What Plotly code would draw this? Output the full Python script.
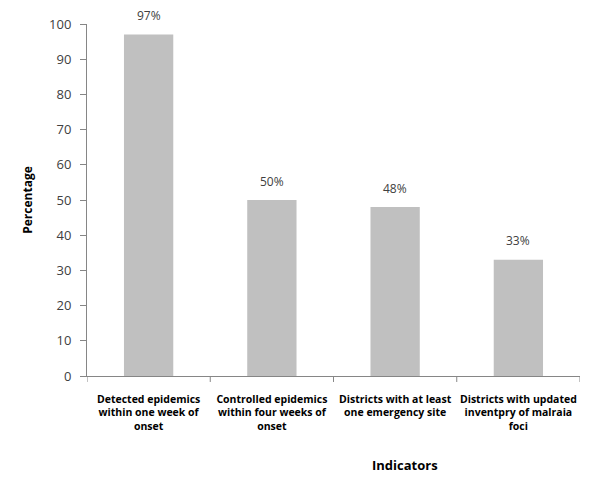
import plotly.graph_objects as go

categories = [
    "Detected epidemics<br>within one week of<br>onset",
    "Controlled epidemics<br>within four weeks of<br>onset",
    "Districts with at least<br>one emergency site",
    "Districts with updated<br>inventpry of malraia<br>foci",
]
values = [97, 50, 48, 33]
labels = ["97%", "50%", "48%", "33%"]
y_ticks = [0, 10, 20, 30, 40, 50, 60, 70, 80, 90, 100]

FONT = "Open Sans, Liberation Sans, sans-serif"

fig = go.Figure()
fig.add_trace(go.Bar(
    x=list(range(len(categories))),
    y=values,
    marker=dict(color="#c0c0c0", line=dict(width=0)),
    width=0.4,
))

for i, (v, t) in enumerate(zip(values, labels)):
    fig.add_annotation(
        x=i, y=v, text=t, showarrow=False, xref="x", yref="y",
        yanchor="middle", yshift=19,
        font=dict(family=FONT, size=12, color="#404040"),
    )

fig.update_layout(
    width=600, height=488,
    margin=dict(l=79, r=28, t=16, b=120),
    paper_bgcolor="white", plot_bgcolor="white",
    showlegend=False,
    font=dict(family=FONT, color="#000000"),
    xaxis=dict(
        range=[-0.5, 3.5],
        automargin=False,
        tickmode="array",
        tickvals=[0, 1, 2, 3],
        ticktext=["<b>" + c + "</b>" for c in categories],
        tickfont=dict(family=FONT, size=10.5, color="#000000"),
        ticklabelstandoff=13,
        showline=True, linecolor="#868686", linewidth=1,
        ticks="", showgrid=False, zeroline=False,
    ),
    yaxis=dict(
        range=[0, 100],
        automargin=False,
        tickmode="array",
        tickvals=y_ticks,
        tickfont=dict(family=FONT, size=13, color="#404040"),
        ticklabelstandoff=6,
        showline=True, linecolor="#868686", linewidth=1,
        ticks="outside", ticklen=6, tickcolor="#868686",
        showgrid=False, zeroline=False,
        title=dict(text="<b>Percentage</b>", font=dict(family=FONT, size=12, color="#000000"), standoff=13),
    ),
)

# category boundary ticks on x axis
for b in [-0.5, 0.5, 1.5, 2.5, 3.5]:
    fig.add_shape(type="line", xref="x", yref="paper", x0=b, x1=b, y0=0, y1=-0.017,
                  line=dict(color="#868686", width=1))

fig.add_annotation(
    text="<b>Indicators</b>", xref="paper", yref="paper",
    x=(405 - 87) / (580 - 87), y=-(465 - 376) / (376 - 24),
    showarrow=False, xanchor="center", yanchor="middle",
    font=dict(family=FONT, size=13, color="#000000"),
)

fig.write_html("out.html")
